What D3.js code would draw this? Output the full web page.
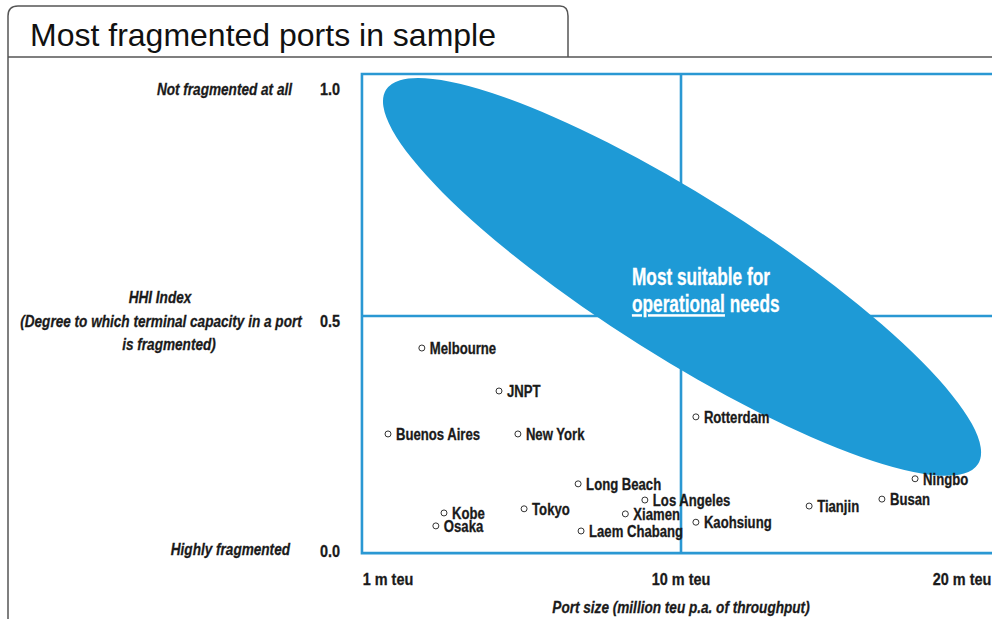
<!DOCTYPE html>
<html>
<head>
<meta charset="utf-8">
<script src="https://cdn.jsdelivr.net/npm/d3@7"></script>
<style>
  body { margin: 0; background: #fff; }
  svg { display: block; }
  .cond { font-family: "Liberation Sans", Arial, sans-serif; font-weight: bold; }
</style>
</head>
<body>
<div id="chart"></div>
<script>
const ports = ['Melbourne', 'JNPT', 'Buenos Aires', 'New York', 'Kobe', 'Osaka', 'Tokyo',
  'Long Beach', 'Los Angeles', 'Xiamen', 'Laem Chabang', 'Kaohsiung', 'Rotterdam',
  'Tianjin', 'Busan', 'Ningbo'];
const portSize = [2.04, 4.41, 1.0, 4.99, 2.72, 2.47, 5.18, 6.84, 8.89, 8.29, 6.93, 10.53, 10.53, 14.56, 17.15, 18.33];
const hhi = [0.435, 0.342, 0.249, 0.249, 0.078, 0.05, 0.087, 0.141, 0.106, 0.076, 0.039, 0.058, 0.286, 0.093, 0.108, 0.152];

const xTicks = [1, 10, 20];
const xTickLabels = ['1 m teu', '10 m teu', '20 m teu'];
const yTicks = [1.0, 0.5, 0.0];
const yTickLabels = ['1.0', '0.5', '0.0'];

// ellipse: two tips (data units) + minor semi-axis (px)
const ellipseTips = [[0.94, 0.994], [20.57, 0.184]];

const width = 992;
const height = 619;

const x = d3.scaleLinear().domain([1, 10, 20]).range([388, 681, 962]);
const y = d3.scaleLinear().domain([0, 1]).range([549, 87]);

const svg = d3.select('#chart').append('svg')
  .attr('width', width)
  .attr('height', height);

// condensed bold text (no narrow font installed, so squeeze horizontally)
const condText = (parent, t, opt) => parent.append('text')
  .attr('class', 'cond')
  .attr('transform', `translate(${opt.x},${opt.y}) scale(${opt.sx},1)`)
  .attr('dy', opt.dy ?? '0.36em')
  .attr('text-anchor', opt.anchor || 'start')
  .attr('font-size', opt.size)
  .attr('font-style', opt.italic ? 'italic' : 'normal')
  .attr('fill', opt.fill || '#1a1a1a')
  .attr('stroke', opt.fill || '#1a1a1a')
  .attr('stroke-width', 0.3)
  .text(t);

// title tab
svg.append('path')
  .attr('d', 'M8,619 V16 Q8,6 18,6 H560 Q568,6 568,16 V57')
  .attr('fill', 'none')
  .attr('stroke', '#555')
  .attr('stroke-width', 1.5);
svg.append('line')
  .attr('x1', 8).attr('x2', width)
  .attr('y1', 57).attr('y2', 57)
  .attr('stroke', '#555')
  .attr('stroke-width', 1.5);
svg.append('text')
  .attr('x', 30).attr('y', 46)
  .attr('font-family', '"Liberation Sans", Arial, sans-serif')
  .attr('font-size', 32)
  .attr('fill', '#111')
  .text('Most fragmented ports in sample');

// frame + quadrant lines
const blue = '#2a98d3';
const frameLeft = x(0.2);
const frameTop = y(1.028);
const frameBottom = y(-0.009);
const frame = svg.append('g').attr('stroke', blue).attr('stroke-width', 2.6).attr('fill', 'none');
frame.append('path').attr('d', `M${width + 5},${frameTop} H${frameLeft} V${frameBottom} H${width + 5}`);
frame.append('line').attr('x1', x(10)).attr('x2', x(10)).attr('y1', frameTop).attr('y2', frameBottom);
frame.append('line').attr('x1', frameLeft).attr('x2', width).attr('y1', y(0.5) - 2).attr('y2', y(0.5) - 2);

// ellipse
const [p1, p2] = ellipseTips.map((d) => [x(d[0]), y(d[1])]);
const cx = (p1[0] + p2[0]) / 2;
const cy = (p1[1] + p2[1]) / 2;
const rx = Math.hypot(p2[0] - p1[0], p2[1] - p1[1]) / 2;
const angle = Math.atan2(p2[1] - p1[1], p2[0] - p1[0]) * 180 / Math.PI;
svg.append('ellipse')
  .attr('cx', cx).attr('cy', cy)
  .attr('rx', rx).attr('ry', 80)
  .attr('transform', `rotate(${angle},${cx},${cy})`)
  .attr('fill', '#1e9ad6');

condText(svg, 'Most suitable for', { x: 632, y: 285, sx: 0.75, size: 23, dy: '0', fill: '#fff' });
const l2 = condText(svg, '', { x: 632, y: 312, sx: 0.75, size: 23, dy: '0', fill: '#fff' });
l2.append('tspan').style('text-decoration', 'underline').text('operational');
l2.append('tspan').text(' needs');

// points
const pts = svg.append('g').selectAll('g')
  .data(ports.map((p, i) => ({ name: p, size: portSize[i], hhi: hhi[i] })))
  .join('g')
  .attr('transform', (d) => `translate(${x(d.size)},${y(d.hhi)})`);
pts.append('circle')
  .attr('r', 3)
  .attr('fill', '#fff')
  .attr('stroke', '#333')
  .attr('stroke-width', 1);
pts.each(function (d) {
  condText(d3.select(this), d.name, { x: 8, y: 0, sx: 0.82, size: 16 });
});

// y ticks
const yAxis = svg.append('g');
yTicks.forEach((d, i) => {
  condText(yAxis, yTickLabels[i], { x: 340, y: y(d) + (d === 0.5 ? 3 : 2), sx: 0.85, size: 17, anchor: 'end' });
});

// x ticks
const xAxis = svg.append('g');
xTicks.forEach((d, i) => {
  condText(xAxis, xTickLabels[i], { x: x(d), y: 579, sx: 0.85, size: 17, anchor: 'middle' });
});

// axis titles
const titles = svg.append('g');
const italic = (t, px, py, anchor) =>
  condText(titles, t, { x: px, y: py, sx: 0.8, size: 17, anchor: anchor, italic: true });

italic('Not fragmented at all', 292, y(1) + 2, 'end');
italic('Highly fragmented', 290, y(0), 'end');
italic('HHI Index', 160, 297, 'middle');
italic('(Degree to which terminal capacity in a port', 161, 321, 'middle');
italic('is fragmented)', 169, 344, 'middle');
italic('Port size (million teu p.a. of throughput)', x(10), 607, 'middle');
</script>
</body>
</html>
